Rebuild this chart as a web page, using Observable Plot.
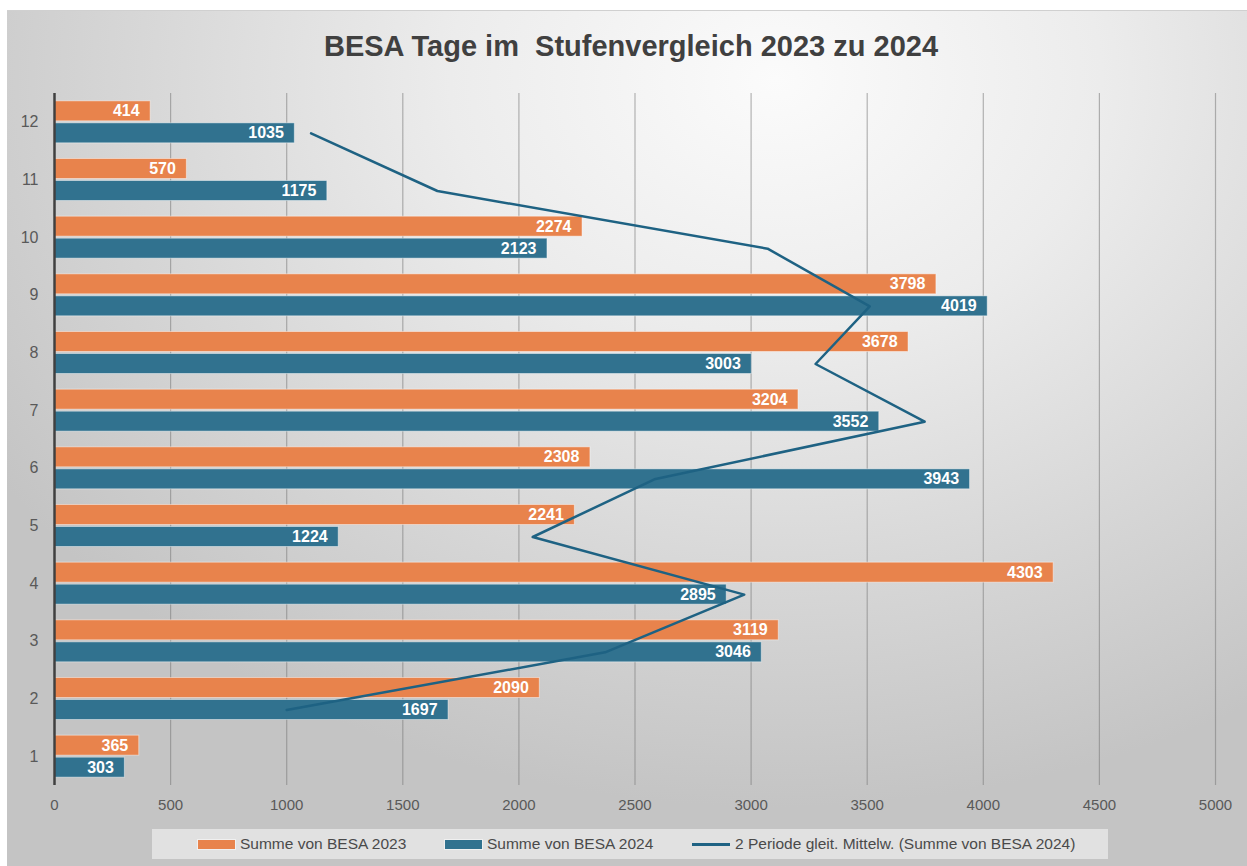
<!DOCTYPE html>
<html>
<head>
<meta charset="utf-8">
<script src="https://cdn.jsdelivr.net/npm/d3@7"></script>
<script src="https://cdn.jsdelivr.net/npm/@observablehq/plot@0.6"></script>
<style>
  html, body { margin: 0; padding: 0; background: #ffffff; }
  #wrap {
    position: absolute; left: 7px; top: 10px; width: 1240px; height: 856px;
    background: radial-gradient(ellipse 75% 85% at 62% 8%, #fbfbfb 0%, #ececec 35%, #d6d6d6 70%, #c4c4c4 100%);
    border-top: 1px solid #d0d0d0;
    overflow: hidden;
  }
  #title {
    position: absolute; left: 0; top: 19px; width: 1248px; text-align: center;
    font-family: "Liberation Sans", Arial, sans-serif;
    font-weight: bold; font-size: 29px; color: #404040; white-space: pre;
  }
  #chart { position: absolute; left: 0; top: 80px; }
  #legend {
    position: absolute; left: 145px; top: 818px; width: 956px; height: 30px;
    background: rgba(235,235,235,0.75);
    font-family: "Liberation Sans", Arial, sans-serif;
    font-size: 15.5px; color: #4a4a4a;
  }
  .li { position: absolute; top: 0; height: 30px; line-height: 30px; white-space: nowrap; }
  .sw { position: absolute; top: 11px; height: 9px; }
</style>
</head>
<body>
<div id="wrap">
  <div id="title">BESA Tage im  Stufenvergleich 2023 zu 2024</div>
  <div id="chart"></div>
  <div id="legend"></div>
</div>
<script>
const categories = ["1","2","3","4","5","6","7","8","9","10","11","12"];
const besa2023 = [365, 2090, 3119, 4303, 2241, 2308, 3204, 3678, 3798, 2274, 570, 414];
const besa2024 = [303, 1697, 3046, 2895, 1224, 3943, 3552, 3003, 4019, 2123, 1175, 1035];
const xTicks = [0, 500, 1000, 1500, 2000, 2500, 3000, 3500, 4000, 4500, 5000];
const seriesNames = ["Summe von BESA 2023", "Summe von BESA 2024", "2 Periode gleit. Mittelw. (Summe von BESA 2024)"];
const colors = ["#E8834C", "#31728F", "#1E6283"];

const rows = categories.map((c, i) => ({cat: c, v23: besa2023[i], v24: besa2024[i]}));

const plot = Plot.plot({
  width: 1240,
  height: 730,
  marginLeft: 47,
  marginRight: 32,
  marginTop: 2,
  marginBottom: 36,
  style: {background: "transparent", overflow: "visible"},
  x: {domain: [0, 5000]},
  y: {domain: categories.slice().reverse(), paddingInner: 0.272, paddingOuter: 0.136, round: false},
  marks: [
    Plot.ruleX(xTicks.slice(1), {stroke: "#7a7a7a", strokeOpacity: 0.55, strokeWidth: 1.2}),
    Plot.barX(rows, {x: "v23", y: "cat", fill: colors[0], insetBottom: 22, stroke: "#ffffff", strokeOpacity: 0.45, strokeWidth: 1}),
    Plot.barX(rows, {x: "v24", y: "cat", fill: colors[1], insetTop: 22, stroke: "#ffffff", strokeOpacity: 0.45, strokeWidth: 1}),
    Plot.text(rows, {x: "v23", y: "cat", text: d => String(d.v23), dy: -11, dx: -11, textAnchor: "end",
      fill: "white", fontWeight: "bold", fontSize: 16, fontFamily: "Liberation Sans, Arial, sans-serif"}),
    Plot.text(rows, {x: "v24", y: "cat", text: d => String(d.v24), dy: 11, dx: -11, textAnchor: "end",
      fill: "white", fontWeight: "bold", fontSize: 16, fontFamily: "Liberation Sans, Arial, sans-serif"}),
    Plot.line(rows, Plot.windowX({k: 2, anchor: "end", strict: true}, {x: "v24", y: "cat", dy: 11, stroke: colors[2], strokeWidth: 2.5})),
    Plot.ruleX([0], {stroke: "#404040", strokeWidth: 2.5}),
    Plot.axisY({tickSize: 0, tickPadding: 16, fontSize: 16, fill: "#595959", label: null,
      fontFamily: "Liberation Sans, Arial, sans-serif"}),
    Plot.axisX({ticks: xTicks, tickSize: 0, tickPadding: 14, fontSize: 15, fill: "#595959", label: null,
      fontFamily: "Liberation Sans, Arial, sans-serif", tickFormat: d => String(d)})
  ]
});
document.getElementById("chart").appendChild(plot);

const legend = document.getElementById("legend");
const items = [
  {left: 46, sw: 37, type: "bar", color: colors[0], text: seriesNames[0]},
  {left: 293, sw: 37, type: "bar", color: colors[1], text: seriesNames[1]},
  {left: 540, sw: 38, type: "line", color: colors[2], text: seriesNames[2]}
];
items.forEach(it => {
  const d = document.createElement("div");
  d.className = "li";
  d.style.left = it.left + "px";
  const s = document.createElement("div");
  s.className = "sw";
  s.style.left = "0px";
  s.style.width = it.sw + "px";
  if (it.type === "bar") {
    s.style.background = it.color;
    s.style.boxShadow = "0 0 0 1px rgba(255,255,255,0.5)";
  } else {
    s.style.top = "14px"; s.style.height = "3px"; s.style.background = it.color;
  }
  d.appendChild(s);
  const t = document.createElement("span");
  t.style.marginLeft = (it.sw + 5) + "px";
  t.textContent = it.text;
  d.appendChild(t);
  legend.appendChild(d);
});
</script>
</body>
</html>
